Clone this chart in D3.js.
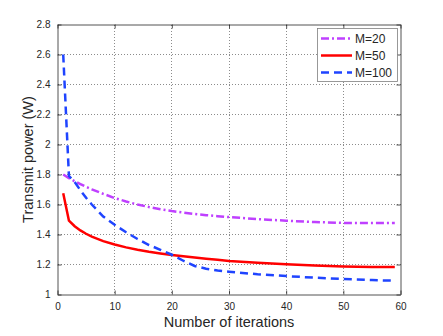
<html>
<head>
<style>
  body { margin: 0; background: white; }
  svg { font-family: "Liberation Sans", Arial, sans-serif; }
  .grid line { stroke: #8c8c8c; stroke-dasharray: 1,2; shape-rendering: crispEdges; }
  .tick text { fill: #262626; font-size: 10px; }
</style>
</head>
<body>
<svg width="443" height="336"></svg>
<script src="https://d3js.org/d3.v7.min.js"></script>
<script>
var iters = [1, 2, 3, 4, 5, 6, 8, 10, 12, 14, 16, 18, 20, 22, 24, 26, 28, 30, 35, 40, 45, 50, 55, 59];
var m20  = [1.800, 1.776, 1.755, 1.736, 1.718, 1.701, 1.671, 1.643, 1.620, 1.600, 1.583, 1.568, 1.556, 1.546, 1.537, 1.529, 1.522, 1.516, 1.503, 1.492, 1.483, 1.477, 1.476, 1.476];
var m50  = [1.675, 1.492, 1.455, 1.427, 1.405, 1.386, 1.356, 1.333, 1.314, 1.298, 1.285, 1.274, 1.264, 1.255, 1.246, 1.238, 1.231, 1.224, 1.211, 1.201, 1.193, 1.187, 1.184, 1.184];
var m100 = [2.600, 1.790, 1.750, 1.695, 1.645, 1.600, 1.520, 1.465, 1.415, 1.370, 1.330, 1.298, 1.265, 1.225, 1.190, 1.172, 1.160, 1.152, 1.135, 1.123, 1.112, 1.103, 1.096, 1.092];
var xTicks = [0, 10, 20, 30, 40, 50, 60];
var yTicks = [1, 1.2, 1.4, 1.6, 1.8, 2, 2.2, 2.4, 2.6, 2.8];

var series = [
  { name: "M=20",  values: m20,  color: "#bf40ff", dash: "8,3,2,3" },
  { name: "M=50",  values: m50,  color: "#ff0000", dash: null },
  { name: "M=100", values: m100, color: "#1f44ff", dash: "8,5" }
];

var svg = d3.select("svg");
var pL = 57.5, pR = 400.5, pT = 24.5, pB = 294.5;

var x = d3.scaleLinear().domain([0, 60]).range([pL, pR]);
var y = d3.scaleLinear().domain([1, 2.8]).range([pB, pT]);

// grid
var grid = svg.append("g").attr("class", "grid");
grid.selectAll(".gx").data(xTicks.slice(1, -1)).enter().append("line")
  .attr("x1", d => x(d)).attr("x2", d => x(d))
  .attr("y1", pT).attr("y2", pB);
grid.selectAll(".gy").data(yTicks.slice(1, -1)).enter().append("line")
  .attr("x1", pL).attr("x2", pR)
  .attr("y1", d => y(d)).attr("y2", d => y(d));

// axes (ticks inward, box)
var fmt = d3.format("");
svg.append("g").attr("transform", "translate(0," + pB + ")")
  .call(d3.axisBottom(x).tickValues(xTicks).tickSize(-4).tickPadding(8).tickSizeOuter(0).tickFormat(fmt));
svg.append("g").attr("transform", "translate(0," + pT + ")")
  .call(d3.axisTop(x).tickValues(xTicks).tickSize(-4).tickSizeOuter(0).tickFormat(""));
svg.append("g").attr("transform", "translate(" + pL + ",0)")
  .call(d3.axisLeft(y).tickValues(yTicks).tickSize(-4).tickPadding(7).tickSizeOuter(0).tickFormat(fmt));
svg.append("g").attr("transform", "translate(" + pR + ",0)")
  .call(d3.axisRight(y).tickValues(yTicks).tickSize(-4).tickSizeOuter(0).tickFormat(""));
svg.selectAll(".domain, .tick line").attr("stroke", "#262626").attr("stroke-width", 0.8);

// lines
var line = d3.line().x((d, i) => x(iters[i])).y(d => y(d));
svg.selectAll(".series").data(series).enter().append("path")
  .attr("d", d => line(d.values))
  .attr("fill", "none")
  .attr("stroke", d => d.color)
  .attr("stroke-width", 2.5)
  .attr("stroke-dasharray", d => d.dash);

// labels
svg.append("text").attr("x", (pL + pR) / 2).attr("y", 327)
  .attr("text-anchor", "middle").attr("font-size", 14.5).attr("fill", "#262626")
  .text("Number of iterations");
svg.append("text").attr("transform", "translate(33," + (pT + pB) / 2 + ") rotate(-90)")
  .attr("text-anchor", "middle").attr("font-size", 14.5).attr("fill", "#262626")
  .text("Transmit power (W)");

// legend
var lg = svg.append("g");
lg.append("rect").attr("x", 317.5).attr("y", 28.5).attr("width", 80).attr("height", 53)
  .attr("fill", "white").attr("stroke", "#7f7f7f").attr("stroke-width", 0.8);
var rows = lg.selectAll(".row").data(series).enter().append("g")
  .attr("transform", (d, i) => "translate(0," + (38.5 + i * 17) + ")");
rows.append("line").attr("x1", 321).attr("x2", 352).attr("y1", 0).attr("y2", 0)
  .attr("stroke", d => d.color).attr("stroke-width", 2.5)
  .attr("stroke-dasharray", d => d.dash);
rows.append("text").attr("x", 355).attr("y", 4.5).attr("font-size", 12).attr("fill", "#262626")
  .text(d => d.name);
</script>
</body>
</html>
